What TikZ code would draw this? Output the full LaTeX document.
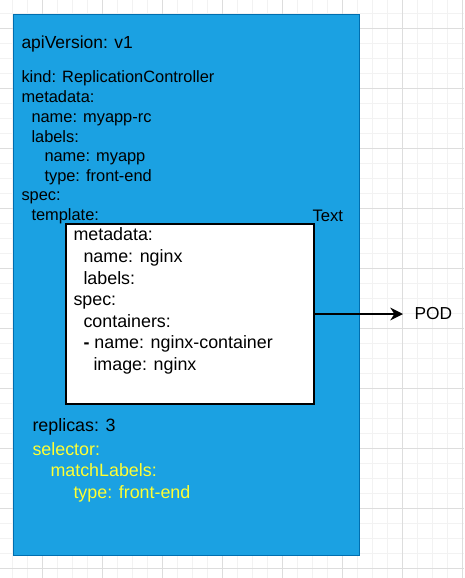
\documentclass[tikz,border=0pt]{standalone}
\usepackage{fontspec}
\setmainfont{Liberation Sans}
\usetikzlibrary{positioning,arrows.meta}
\definecolor{rcblue}{HTML}{1BA1E2}
\definecolor{rcline}{HTML}{006EAF}
\definecolor{selyellow}{HTML}{FFFF33}
\definecolor{gridmajor}{HTML}{DDDDDD}
\definecolor{gridminor}{HTML}{F2F2F2}

\begin{document}
\begin{tikzpicture} [x=0.75pt,y=-0.75pt,line width=0.75pt,
  every node/.style={inner sep=0pt,anchor=west,text height=0.86em,text depth=0pt},
  outer/.style={font=\fontsize{12.3}{14}\selectfont},
  inner/.style={font=\fontsize{13.4}{16}\selectfont},
  sel/.style={inner,text=selyellow}]
\def\xmin{0}
\def\xmax{464}
\def\ymin{0}
\def\ymax{578}
\useasboundingbox (\xmin,\ymin) rectangle (\xmax,\ymax);

\foreach \x in {12,27,...,462}
	\draw[color=gridminor](\x,\ymin)--(\x,\ymax);
\foreach \y in {13,28,...,568}
	\draw[color=gridminor](\xmin,\y)--(\xmax,\y);
\foreach \x in {42,102,...,462}
	\draw[color=gridmajor](\x,\ymin)--(\x,\ymax);
\foreach \y in {28,88,...,568}
	\draw[color=gridmajor](\xmin,\y)--(\xmax,\y);

\node (rc) [draw=rcline,fill=rcblue,anchor=center,minimum width=259.5pt,minimum height=405.75pt] at (186,284.5) {};
\node (tpl) [draw,fill=white,line width=1.2pt,anchor=center,minimum width=186pt,minimum height=135pt] at (190,314) {};

\node (api) [font=\fontsize{13.1}{15}\selectfont] at (21,43) {apiVersion: v1};
\node (kind) [outer] at (21,77) {kind: ReplicationController};
\node (meta) [outer] at (21,97) {metadata:};
\node (mname) [outer] at (31,117) {name: myapp-rc};
\node (mlab) [outer] at (31,137) {labels:};
\node (lname) [outer] at (44,156) {name: myapp};
\node (ltype) [outer] at (44,176) {type: front-end};
\node (spec) [outer] at (21,195) {spec:};
\node (tmpl) [outer] at (31,215) {template:};
\node (txt) [font=\fontsize{12.5}{15}\selectfont] at (312,216) {Text};

\node (tmeta) [inner] at (73,235) {metadata:};
\node (tname) [inner] at (83,257) {name: nginx};
\node (tlab) [inner] at (83,279) {labels:};
\node (tspec) [inner] at (73,300) {spec:};
\node (tcont) [inner] at (83,322) {containers:};
\node (cname) [inner] at (83,343) {\textbf{-} name: nginx-container};
\node (cimg) [inner] at (93,365) {image: nginx};

\node (rep) [inner] at (32,426) {replicas: 3};
\node (sel) [sel] at (32,450) {selector:};
\node (mlabels) [sel] at (50,471) {matchLabels:};
\node (stype) [sel] at (73,493) {type: front-end};

\node (pod) [font=\fontsize{13}{15}\selectfont,inner xsep=8.25pt] at (403,314) {POD};

\draw[-{Stealth[length=9.5pt,width=9.5pt,inset=3pt]},line width=1.3pt] (tpl.east)--(pod.west);

\end{tikzpicture}
\end{document}
